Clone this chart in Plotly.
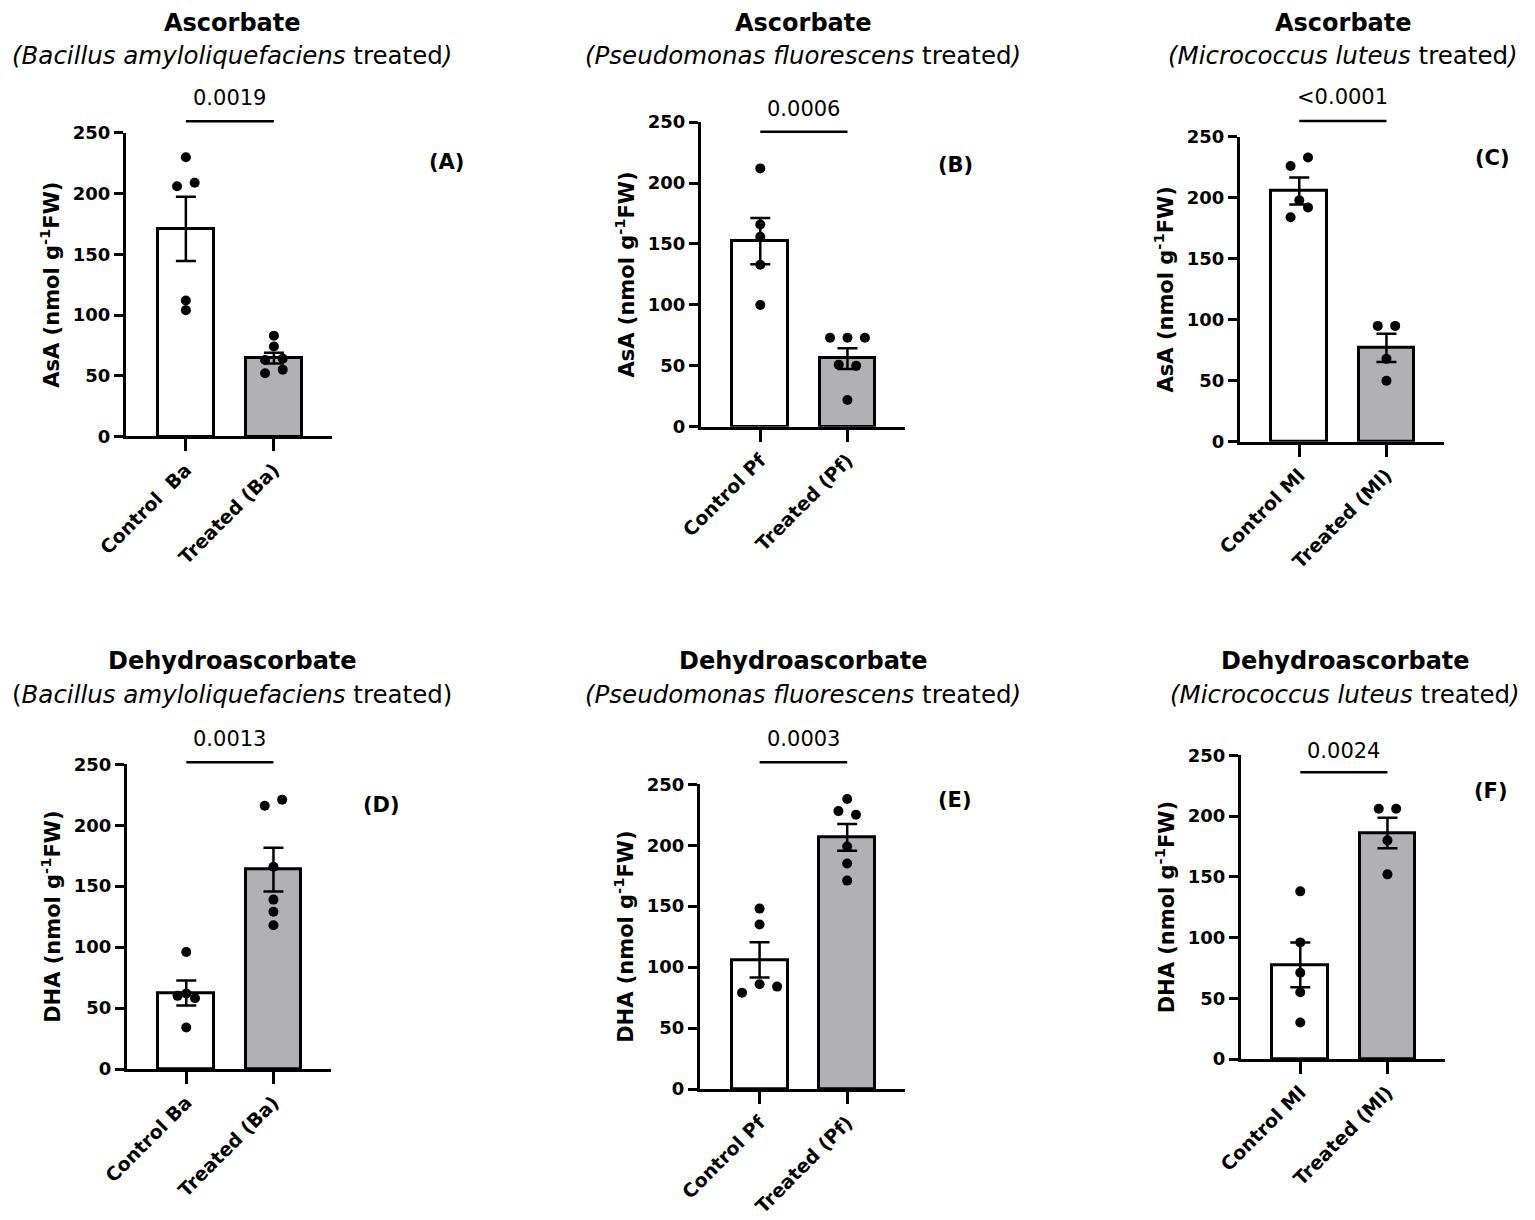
import plotly.graph_objects as go

# page body adds an 8px margin, so the figure is drawn 8px in and 8px smaller
OFF = 8
W, H = 1535 - OFF, 1220 - OFF
FONT = "DejaVu Sans"
GRAY = "#b1b1b5"

# ---- values ----
cats_ba = ["Control  Ba", "Treated (Ba)"]
cats_ba2 = ["Control Ba", "Treated (Ba)"]
cats_pf = ["Control Pf", "Treated (Pf)"]
cats_ml = ["Control Ml", "Treated (Ml)"]

# Ascorbate (AsA)
asa_ba_ctrl = [230, 206, 209, 112, 104]
asa_ba_trt = [83, 74, 63, 64, 52, 55]
asa_ba_mean = [171, 64.5]
asa_ba_sem = [26.5, 4.5]

asa_pf_ctrl = [212, 166, 156, 133, 100]
asa_pf_trt = [73, 73, 73, 51, 50, 22]
asa_pf_mean = [152.4, 56]
asa_pf_sem = [19, 8.5]

asa_ml_ctrl = [233, 226, 198, 192, 184]
asa_ml_trt = [95, 95, 68, 50]
asa_ml_mean = [205.6, 77]
asa_ml_sem = [11, 11.5]

# Dehydroascorbate (DHA)
dha_ba_ctrl = [96, 60, 58, 62, 34]
dha_ba_trt = [216, 221, 166, 139, 129, 118]
dha_ba_mean = [62.3, 163.6]
dha_ba_sem = [10.3, 18]

dha_pf_ctrl = [148, 135, 79, 86, 84]
dha_pf_trt = [238, 228, 225, 199, 185, 171]
dha_pf_mean = [106, 206.5]
dha_pf_sem = [14.5, 11]

dha_ml_ctrl = [138, 96, 71, 55, 30]
dha_ml_trt = [206, 206, 180, 152]
dha_ml_mean = [77.5, 186]
dha_ml_sem = [18.5, 12.5]

p_values = ["0.0019", "0.0006", "<0.0001", "0.0013", "0.0003", "0.0024"]
y_ticks = [0, 50, 100, 150, 200, 250]

ASA_TITLE = "AsA (nmol g<sup>-1</sup>FW)"
DHA_TITLE = "DHA (nmol g<sup>-1</sup>FW)"

# ---- panel layout (pixel boxes, jitter slots, significance bar heights) ----
panels = [
    dict(cats=cats_ba, ctrl=asa_ba_ctrl, trt=asa_ba_trt, mean=asa_ba_mean, sem=asa_ba_sem,
         jc=[0, -1, 1, 0, 0], jt=[0, 0, -1, 1, -1, 1], box=(126, 332, 132.9, 436.4),
         sig=(259.5, 279), ytitle=ASA_TITLE, title="Ascorbate",
         sub="<i>(Bacillus amyloliquefaciens</i> treated<i>)</i>",
         tpos=(232, 23, 55), lab="(A)", lpos=(446, 162)),
    dict(cats=cats_pf, ctrl=asa_pf_ctrl, trt=asa_pf_trt, mean=asa_pf_mean, sem=asa_pf_sem,
         jc=[0, 0, 0, 0, 0], jt=[-2, 0, 2, -1, 1, 0], box=(701, 905, 122.1, 426.8),
         sig=(242, 261), ytitle=ASA_TITLE, title="Ascorbate",
         sub="<i>(Pseudomonas fluorescens</i> treated<i>)</i>",
         tpos=(803, 23, 55), lab="(B)", lpos=(955, 165)),
    dict(cats=cats_ml, ctrl=asa_ml_ctrl, trt=asa_ml_trt, mean=asa_ml_mean, sem=asa_ml_sem,
         jc=[1, -1, 0, 1, -1], jt=[-1, 1, 0, 0], box=(1240, 1444, 136.8, 441.8),
         sig=(263, 282.6), ytitle=ASA_TITLE, title="Ascorbate",
         sub="<i>(Micrococcus luteus</i> treated<i>)</i>",
         tpos=(1343, 23, 55), lab="(C)", lpos=(1492, 158)),
    dict(cats=cats_ba2, ctrl=dha_ba_ctrl, trt=dha_ba_trt, mean=dha_ba_mean, sem=dha_ba_sem,
         jc=[0, -1, 1, 0, 0], jt=[-1, 1, 0, 0, 0, 0], box=(127, 331, 764.3, 1069),
         sig=(251.6, 270.6), ytitle=DHA_TITLE, title="Dehydroascorbate",
         sub="(<i>Bacillus amyloliquefaciens</i> treated)",
         tpos=(232, 661, 694), lab="(D)", lpos=(381, 805)),
    dict(cats=cats_pf, ctrl=dha_pf_ctrl, trt=dha_pf_trt, mean=dha_pf_mean, sem=dha_pf_sem,
         jc=[0, 0, -2, 0, 2], jt=[0, -1, 1, 0, 0, 0], box=(700, 905, 784.3, 1089),
         sig=(268, 287), ytitle=DHA_TITLE, title="Dehydroascorbate",
         sub="<i>(Pseudomonas fluorescens</i> treated<i>)</i>",
         tpos=(803, 661, 694), lab="(E)", lpos=(955, 800)),
    dict(cats=cats_ml, ctrl=dha_ml_ctrl, trt=dha_ml_trt, mean=dha_ml_mean, sem=dha_ml_sem,
         jc=[0, 0, 0, 0, 0], jt=[-1, 1, 0, 0], box=(1241, 1445, 755.3, 1059),
         sig=(236, 253.4), ytitle=DHA_TITLE, title="Dehydroascorbate",
         sub="<i>(Micrococcus luteus</i> treated<i>)</i>",
         tpos=(1345, 661, 694), lab="(F)", lpos=(1491, 791)),
]

JIT = 0.1
X_RANGE = [-0.68, 1.66]


def xp(px):
    return (px - OFF) / W


def yp(py):
    return 1 - (py - OFF) / H


fig = go.Figure()
annotations = []
shapes = []

for i, p in enumerate(panels, start=1):
    sfx = "" if i == 1 else str(i)
    xa, ya = "x" + sfx, "y" + sfx

    fig.add_trace(go.Bar(
        x=[0, 1], y=p["mean"], width=0.64, xaxis=xa, yaxis=ya,
        marker=dict(color=["white", GRAY], line=dict(color="black", width=3)),
        error_y=dict(type="data", array=p["sem"], visible=True,
                     color="black", thickness=2.5, width=10),
        showlegend=False, hoverinfo="skip",
    ))
    for k, (vals, jit) in enumerate([(p["ctrl"], p["jc"]), (p["trt"], p["jt"])]):
        fig.add_trace(go.Scatter(
            x=[k + JIT * j for j in jit], y=vals, mode="markers",
            xaxis=xa, yaxis=ya, cliponaxis=False,
            marker=dict(color="black", size=10),
            showlegend=False, hoverinfo="skip",
        ))

    x0, x1, ytop, ybot = p["box"]
    fig.update_layout(**{
        "xaxis" + sfx: dict(
            domain=[xp(x0), xp(x1)], anchor=ya, range=X_RANGE, automargin=False,
            tickvals=[0, 1], ticktext=p["cats"], tickangle=-45,
            ticks="outside", ticklen=12, tickwidth=3, tickcolor="black",
            showline=True, linewidth=3, linecolor="black",
            showgrid=False, zeroline=False,
            tickfont=dict(family=FONT, size=19, color="black", weight="bold"),
        ),
        "yaxis" + sfx: dict(
            domain=[yp(ybot), yp(ytop)], anchor=xa, range=[0, 250],
            automargin=False,
            tickvals=y_ticks, ticks="outside", ticklen=9, tickwidth=3,
            tickcolor="black", showline=True, linewidth=3, linecolor="black",
            showgrid=False, zeroline=False,
            tickfont=dict(family=FONT, size=18, color="black", weight="bold"),
            title=dict(text=p["ytitle"], standoff=8,
                       font=dict(family=FONT, size=21, color="black", weight="bold")),
        ),
    })

    # significance bar + p value
    shapes.append(dict(type="line", xref=xa, yref=ya + " domain",
                       x0=0, x1=1, y0=p["sig"][0] / 250, y1=p["sig"][0] / 250,
                       line=dict(color="black", width=2.5)))
    annotations.append(dict(xref=xa, yref=ya + " domain", x=0.5, y=p["sig"][1] / 250,
                            text=p_values[i - 1], showarrow=False,
                            xanchor="center", yanchor="middle",
                            font=dict(family=FONT, size=21, color="black")))

    # titles and panel letter
    tx, ty1, ty2 = p["tpos"]
    annotations.append(dict(xref="paper", yref="paper", x=xp(tx), y=yp(ty1),
                            text=p["title"], showarrow=False,
                            xanchor="center", yanchor="middle",
                            font=dict(family=FONT, size=24, color="black", weight="bold")))
    annotations.append(dict(xref="paper", yref="paper", x=xp(tx), y=yp(ty2),
                            text=p["sub"], showarrow=False,
                            xanchor="center", yanchor="middle",
                            font=dict(family=FONT, size=24.5, color="black")))
    lx, ly = p["lpos"]
    annotations.append(dict(xref="paper", yref="paper", x=xp(lx), y=yp(ly),
                            text=p["lab"], showarrow=False,
                            xanchor="center", yanchor="middle",
                            font=dict(family=FONT, size=21, color="black", weight="bold")))

fig.update_layout(
    width=W, height=H,
    margin=dict(l=0, r=0, t=0, b=0, autoexpand=False),
    paper_bgcolor="white", plot_bgcolor="white",
    bargap=0, annotations=annotations, shapes=shapes,
    font=dict(family=FONT, color="black"),
)

fig.write_html("out.html")
